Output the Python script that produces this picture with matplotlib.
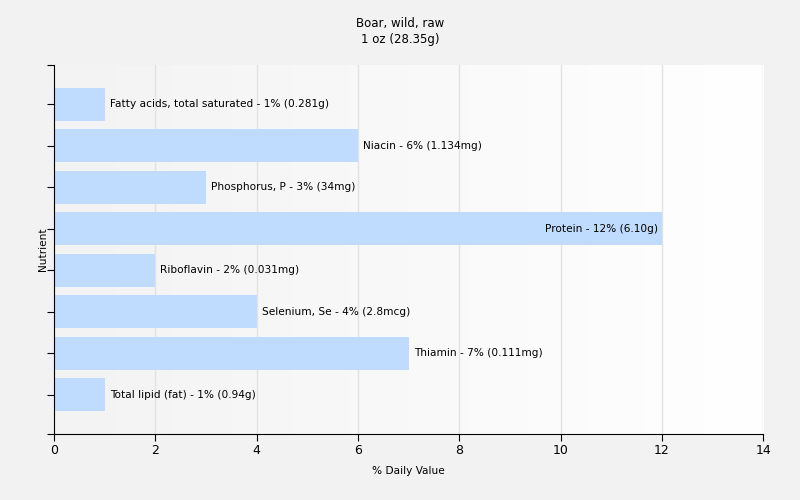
import numpy as np
import matplotlib
matplotlib.use('Agg')
import matplotlib.pyplot as plt

nutrients = ['Fatty acids, total saturated', 'Niacin', 'Phosphorus, P', 'Protein',
             'Riboflavin', 'Selenium, Se', 'Thiamin', 'Total lipid (fat)']
values = [1, 6, 3, 12, 2, 4, 7, 1]
amounts = ['0.281g', '1.134mg', '34mg', '6.10g', '0.031mg', '2.8mcg', '0.111mg', '0.94g']

fig = plt.figure(figsize=(8, 5), dpi=100, facecolor='#f2f2f2')
ax = fig.add_axes([0.0675, 0.132, 0.8865, 0.738])

n = len(nutrients)
ypos = np.arange(n)[::-1]  # first one on top
xmax = 14
ylo, yhi = -0.95, n - 0.05

# gradient background of plot area
grad = np.linspace(0, 1, 256).reshape(1, -1)
cmap = matplotlib.colors.LinearSegmentedColormap.from_list('bg', ['#f3f3f3', '#ffffff'])
ax.imshow(grad, aspect='auto', cmap=cmap, extent=[0, xmax, ylo, yhi], zorder=0)

for x in range(2, xmax + 1, 2):
    ax.axvline(x, color='#e2e2e2', lw=1, zorder=1)

ax.barh(ypos, values, height=0.8, color='#bfdbfe', zorder=2)

for y, v, name, amt in zip(ypos, values, nutrients, amounts):
    label = '%s - %d%% (%s)' % (name, v, amt)
    if v > 10:  # no room on the right, put it inside
        ax.text(v - 0.08, y, label, ha='right', va='center', fontsize=7.6, zorder=3)
    else:
        ax.text(v + 0.1, y, label, ha='left', va='center', fontsize=7.6, zorder=3)

ax.set_xlim(0, xmax)
ax.set_ylim(ylo, yhi)
ax.set_xticks(range(0, xmax + 1, 2))
ax.set_yticks(list(ypos) + [ylo, yhi])
ax.set_yticklabels([])
ax.tick_params(axis='x', labelsize=9, length=5, pad=2)
ax.tick_params(axis='y', length=5)
for s in ['top', 'right']:
    ax.spines[s].set_visible(False)

ax.set_xlabel('% Daily Value', fontsize=7.6, labelpad=7)
ax.set_ylabel('Nutrient', fontsize=7.6, labelpad=-4)
fig.text(0.5, 1 - 23 / 500, 'Boar, wild, raw', ha='center', va='center', fontsize=8.5)
fig.text(0.5, 1 - 40 / 500, '1 oz (28.35g)', ha='center', va='center', fontsize=8.5)

fig.savefig('out.png', dpi=100, facecolor=fig.get_facecolor())
